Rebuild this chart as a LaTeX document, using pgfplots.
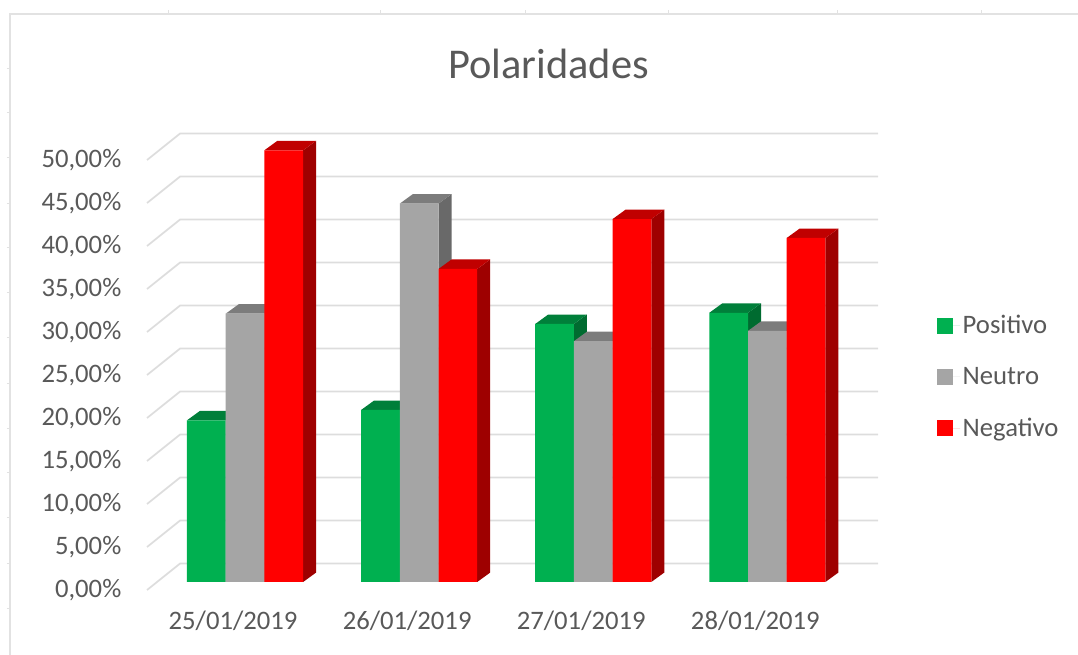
\documentclass[border=0pt]{standalone}
\usepackage{fontspec}
\setmainfont{Carlito}
\usepackage{pgfplots}
\pgfplotsset{compat=1.18}
\definecolor{txt}{HTML}{595959}
\definecolor{gridc}{HTML}{DDDDDD}
\definecolor{frame}{HTML}{E2E2E2}
\definecolor{pos}{HTML}{00B050}
\definecolor{postop}{HTML}{007F3A}
\definecolor{posside}{HTML}{006B30}
\definecolor{neu}{HTML}{A5A5A5}
\definecolor{neutop}{HTML}{7C7C7C}
\definecolor{neuside}{HTML}{696969}
\definecolor{neg}{HTML}{FF0000}
\definecolor{negtop}{HTML}{C00000}
\definecolor{negside}{HTML}{9E0000}
% top and side faces of a bar: category, slot (-1,0,1), value, top colour, side colour
\newcommand{\solid}[5]{%
  \pgfmathsetmacro\xl{#1+(#2-0.5)*0.2223}%
  \pgfmathsetmacro\xr{\xl+0.2223}%
  \pgfmathsetmacro\xlb{\xl+0.0747}%
  \pgfmathsetmacro\xrb{\xr+0.0747}%
  \pgfmathsetmacro\vb{#3+1.1}%
  \edef\temp{\noexpand\addplot[forget plot,fill=#5,draw=none] coordinates {(\xr,0) (\xrb,1.1) (\xrb,\vb) (\xr,#3) (\xr,0)};
    \noexpand\addplot[forget plot,fill=#4,draw=none] coordinates {(\xl,#3) (\xlb,\vb) (\xrb,\vb) (\xr,#3) (\xl,#3)};}%
  \temp}
\begin{document}
\begin{tikzpicture}
\useasboundingbox (0,0) rectangle (808.5pt,491.25pt);
% sheet border behind the chart
\draw[frame,line width=1pt] (7.5pt,0) -- (7.5pt,480.75pt) -- (808.5pt,480.75pt);
\foreach \x in {126,285,394,501,628,736} \draw[frame,line width=.7pt] (\x pt,480.75pt) -- (\x pt,483.5pt);
\foreach \y in {35,69,103,137,170,204,238,272,306,339,373,407,440} \draw[frame,line width=.7pt] (5pt,\y pt) -- (7.5pt,\y pt);
\begin{axis}[
  at={(118.5pt,54.75pt)}, anchor=south west,
  width=522.3pt, height=322.5pt, scale only axis,
  xmin=-0.5, xmax=3.5, ymin=0, ymax=50,
  clip=false,
  axis x line*=bottom, axis y line*=left,
  axis line style={draw=none},
  major tick length=0pt,
  xtick={0,1,2,3},
  xticklabels={25/01/2019,26/01/2019,27/01/2019,28/01/2019},
  ytick={0,5,10,15,20,25,30,35,40,45,50},
  yticklabels={{0,00\%},{5,00\%},{10,00\%},{15,00\%},{20,00\%},{25,00\%},{30,00\%},{35,00\%},{40,00\%},{45,00\%},{50,00\%}},
  tick label style={font=\fontsize{20}{24}\selectfont,text=txt},
  yticklabel style={xshift=-24pt,yshift=-6pt},
  xticklabel style={xshift=-9pt,yshift=-18.5pt},
  title={Polaridades},
  title style={at={(0.561,1.186)},anchor=center,font=\fontsize{31.8}{38}\selectfont,text=txt},
  legend style={draw=none,fill=none,at={(1.113,0.477)},anchor=west,
    font=\fontsize{20}{24}\selectfont,text=txt,row sep=19.6pt},
  legend cell align=left,
  legend image code/.code={\path[#1] (0pt,-6pt) rectangle (12pt,6pt);\path (0pt,0pt) -- (17pt,0pt);},
]
% floor stub and back wall line for every tick
\addplot[forget plot,gridc,line width=1.3pt] coordinates {(-0.563,-0.93) (-0.373,2.15) (3.636,2.15)};
\addplot[forget plot,gridc,line width=1.3pt] coordinates {(-0.563,4.07) (-0.373,7.15) (3.636,7.15)};
\addplot[forget plot,gridc,line width=1.3pt] coordinates {(-0.563,9.07) (-0.373,12.15) (3.636,12.15)};
\addplot[forget plot,gridc,line width=1.3pt] coordinates {(-0.563,14.07) (-0.373,17.15) (3.636,17.15)};
\addplot[forget plot,gridc,line width=1.3pt] coordinates {(-0.563,19.07) (-0.373,22.15) (3.636,22.15)};
\addplot[forget plot,gridc,line width=1.3pt] coordinates {(-0.563,24.07) (-0.373,27.15) (3.636,27.15)};
\addplot[forget plot,gridc,line width=1.3pt] coordinates {(-0.563,29.07) (-0.373,32.15) (3.636,32.15)};
\addplot[forget plot,gridc,line width=1.3pt] coordinates {(-0.563,34.07) (-0.373,37.15) (3.636,37.15)};
\addplot[forget plot,gridc,line width=1.3pt] coordinates {(-0.563,39.07) (-0.373,42.15) (3.636,42.15)};
\addplot[forget plot,gridc,line width=1.3pt] coordinates {(-0.563,44.07) (-0.373,47.15) (3.636,47.15)};
\addplot[forget plot,gridc,line width=1.3pt] coordinates {(-0.563,49.07) (-0.373,52.15) (3.636,52.15)};
% Positivo
\solid{0}{-1}{18.8}{postop}{posside}
\solid{1}{-1}{20}{postop}{posside}
\solid{2}{-1}{30}{postop}{posside}
\solid{3}{-1}{31.3}{postop}{posside}
\addplot[ybar,bar width=0.2223,bar shift=-0.2223,fill=pos,draw=none]
  coordinates {(0,18.8) (1,20) (2,30) (3,31.3)};
\addlegendentry{Positivo}
% Neutro
\solid{0}{0}{31.2}{neutop}{neuside}
\solid{1}{0}{44}{neutop}{neuside}
\solid{2}{0}{28}{neutop}{neuside}
\solid{3}{0}{29.2}{neutop}{neuside}
\addplot[ybar,bar width=0.2223,bar shift=0,fill=neu,draw=none]
  coordinates {(0,31.2) (1,44) (2,28) (3,29.2)};
\addlegendentry{Neutro}
% Negativo
\solid{0}{1}{50.2}{negtop}{negside}
\solid{1}{1}{36.4}{negtop}{negside}
\solid{2}{1}{42.2}{negtop}{negside}
\solid{3}{1}{40}{negtop}{negside}
\addplot[ybar,bar width=0.2223,bar shift=0.2223,fill=neg,draw=none]
  coordinates {(0,50.2) (1,36.4) (2,42.2) (3,40)};
\addlegendentry{Negativo}
\end{axis}
\end{tikzpicture}
\end{document}
